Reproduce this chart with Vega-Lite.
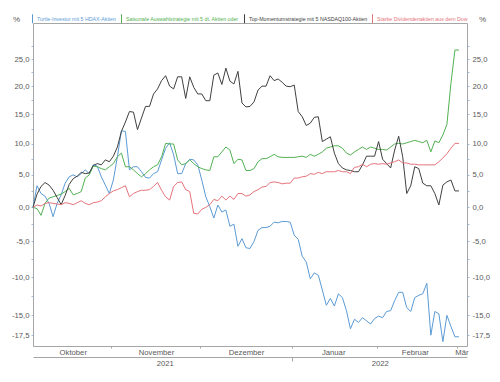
{
  "$schema": "https://vega.github.io/schema/vega-lite/v6.json",
  "width": 434,
  "height": 323,
  "autosize": {"type": "none"},
  "padding": {"left": 33, "top": 23, "right": 33, "bottom": 36},
  "background": "white",
  "config": {
    "view": {"stroke": null},
    "axis": {"labelFont": "Liberation Sans", "labelFontSize": 7.7, "labelColor": "#595959", "domainColor": "#a6a6a6", "tickColor": "#a6a6a6", "grid": false, "titleFont": "Liberation Sans", "titleColor": "#595959", "titleFontWeight": "normal", "titleFontSize": 8}
  },
  "data": {"values": [
    {"t":0,"a":100.0,"b":100.0,"c":100.0,"d":100.0},
    {"t":1,"a":103.3,"b":99.8,"c":102.0,"d":100.35},
    {"t":2,"a":102.1,"b":98.8,"c":103.2,"d":100.2},
    {"t":3,"a":101.7,"b":100.6,"c":103.8,"d":100.6},
    {"t":4,"a":100.6,"b":101.4,"c":103.4,"d":100.7},
    {"t":5,"a":98.6,"b":101.6,"c":102.6,"d":100.6},
    {"t":6,"a":100.6,"b":101.8,"c":101.5,"d":100.5},
    {"t":7,"a":101.9,"b":102.0,"c":100.4,"d":100.4},
    {"t":8,"a":103.7,"b":102.4,"c":101.8,"d":100.7},
    {"t":9,"a":104.7,"b":102.9,"c":103.5,"d":100.6},
    {"t":10,"a":105.0,"b":101.9,"c":104.4,"d":100.4},
    {"t":11,"a":104.7,"b":102.1,"c":104.8,"d":100.7},
    {"t":12,"a":105.2,"b":102.4,"c":105.4,"d":101.0},
    {"t":13,"a":105.8,"b":104.5,"c":105.2,"d":100.6},
    {"t":14,"a":105.2,"b":105.0,"c":105.3,"d":100.4},
    {"t":15,"a":106.6,"b":106.4,"c":106.5,"d":100.7},
    {"t":16,"a":106.4,"b":106.3,"c":106.8,"d":100.8},
    {"t":17,"a":104.7,"b":106.0,"c":106.6,"d":101.0},
    {"t":18,"a":103.4,"b":105.8,"c":107.4,"d":101.6},
    {"t":19,"a":102.1,"b":106.3,"c":107.1,"d":102.1},
    {"t":20,"a":104.2,"b":106.8,"c":108.0,"d":102.5},
    {"t":21,"a":107.9,"b":107.9,"c":109.5,"d":102.7},
    {"t":22,"a":112.2,"b":108.5,"c":112.1,"d":103.0},
    {"t":23,"a":112.1,"b":106.3,"c":113.7,"d":103.3},
    {"t":24,"a":105.8,"b":106.3,"c":115.5,"d":101.6},
    {"t":25,"a":106.3,"b":105.8,"c":115.4,"d":102.1},
    {"t":26,"a":106.3,"b":105.2,"c":112.4,"d":102.4},
    {"t":27,"a":105.5,"b":104.7,"c":114.4,"d":102.6},
    {"t":28,"a":104.6,"b":105.2,"c":116.4,"d":102.6},
    {"t":29,"a":104.5,"b":105.8,"c":116.4,"d":102.7},
    {"t":30,"a":105.2,"b":106.3,"c":118.6,"d":103.2},
    {"t":31,"a":105.5,"b":106.6,"c":119.5,"d":103.8},
    {"t":32,"a":107.4,"b":107.9,"c":121.0,"d":102.6},
    {"t":33,"a":109.3,"b":110.1,"c":121.9,"d":101.6},
    {"t":34,"a":110.2,"b":110.0,"c":120.0,"d":101.1},
    {"t":35,"a":108.2,"b":110.0,"c":119.5,"d":103.2},
    {"t":36,"a":105.2,"b":107.4,"c":121.7,"d":103.8},
    {"t":37,"a":105.2,"b":106.6,"c":121.7,"d":103.9},
    {"t":38,"a":106.8,"b":106.8,"c":117.8,"d":102.7},
    {"t":39,"a":107.5,"b":107.4,"c":121.7,"d":102.4},
    {"t":40,"a":107.4,"b":106.8,"c":119.8,"d":99.1},
    {"t":41,"a":106.6,"b":106.3,"c":118.6,"d":99.0},
    {"t":42,"a":104.2,"b":106.0,"c":118.6,"d":99.7},
    {"t":43,"a":101.6,"b":105.8,"c":117.4,"d":100.0},
    {"t":44,"a":100.1,"b":105.7,"c":117.4,"d":100.4},
    {"t":45,"a":98.4,"b":107.9,"c":122.0,"d":101.2},
    {"t":46,"a":100.35,"b":107.9,"c":122.4,"d":101.0},
    {"t":47,"a":99.3,"b":108.7,"c":120.3,"d":101.7},
    {"t":48,"a":99.6,"b":109.5,"c":123.3,"d":101.1},
    {"t":49,"a":97.2,"b":109.0,"c":120.9,"d":101.7},
    {"t":50,"a":97.5,"b":106.8,"c":120.4,"d":101.2},
    {"t":51,"a":94.3,"b":107.5,"c":122.7,"d":102.1},
    {"t":52,"a":95.4,"b":107.4,"c":117.0,"d":102.1},
    {"t":53,"a":94.1,"b":105.7,"c":116.3,"d":101.7},
    {"t":54,"a":94.0,"b":105.7,"c":116.4,"d":101.9},
    {"t":55,"a":95.0,"b":106.0,"c":117.2,"d":102.4},
    {"t":56,"a":96.6,"b":107.1,"c":119.3,"d":102.7},
    {"t":57,"a":97.0,"b":107.6,"c":120.0,"d":103.1},
    {"t":58,"a":97.0,"b":107.6,"c":120.0,"d":103.2},
    {"t":59,"a":97.2,"b":107.9,"c":121.9,"d":103.8},
    {"t":60,"a":97.8,"b":108.3,"c":121.0,"d":103.9},
    {"t":61,"a":97.7,"b":107.9,"c":121.3,"d":103.8},
    {"t":62,"a":97.9,"b":107.8,"c":120.7,"d":103.6},
    {"t":63,"a":97.9,"b":107.8,"c":120.0,"d":103.7},
    {"t":64,"a":97.8,"b":107.8,"c":119.9,"d":103.7},
    {"t":65,"a":95.9,"b":107.8,"c":120.2,"d":104.5},
    {"t":66,"a":95.3,"b":107.9,"c":115.5,"d":104.5},
    {"t":67,"a":92.9,"b":108.0,"c":114.6,"d":104.7},
    {"t":68,"a":92.1,"b":107.8,"c":113.1,"d":104.8},
    {"t":69,"a":89.8,"b":108.3,"c":113.5,"d":105.2},
    {"t":70,"a":90.6,"b":108.0,"c":114.5,"d":105.1},
    {"t":71,"a":90.3,"b":108.3,"c":114.6,"d":105.4},
    {"t":72,"a":88.3,"b":108.7,"c":110.4,"d":105.2},
    {"t":73,"a":86.3,"b":109.3,"c":110.8,"d":105.5},
    {"t":74,"a":87.2,"b":109.5,"c":111.2,"d":105.5},
    {"t":75,"a":86.2,"b":109.7,"c":108.5,"d":105.5},
    {"t":76,"a":87.8,"b":109.7,"c":106.8,"d":105.7},
    {"t":77,"a":87.3,"b":109.3,"c":106.1,"d":105.5},
    {"t":78,"a":85.6,"b":108.5,"c":105.8,"d":105.5},
    {"t":79,"a":83.3,"b":108.2,"c":105.7,"d":105.2},
    {"t":80,"a":84.5,"b":108.7,"c":105.5,"d":106.2},
    {"t":81,"a":84.1,"b":109.1,"c":105.5,"d":106.3},
    {"t":82,"a":84.7,"b":109.5,"c":106.6,"d":106.7},
    {"t":83,"a":84.3,"b":109.1,"c":108.0,"d":106.3},
    {"t":84,"a":83.9,"b":109.5,"c":108.0,"d":106.7},
    {"t":85,"a":84.6,"b":109.3,"c":108.0,"d":106.8},
    {"t":86,"a":84.9,"b":109.1,"c":110.4,"d":106.7},
    {"t":87,"a":84.7,"b":109.1,"c":107.5,"d":106.8},
    {"t":88,"a":85.5,"b":109.0,"c":106.8,"d":106.7},
    {"t":89,"a":85.6,"b":109.5,"c":106.1,"d":106.9},
    {"t":90,"a":86.9,"b":110.0,"c":109.0,"d":107.1},
    {"t":91,"a":88.0,"b":110.1,"c":111.3,"d":107.4},
    {"t":92,"a":88.0,"b":110.0,"c":107.9,"d":106.9},
    {"t":93,"a":86.0,"b":110.2,"c":102.1,"d":106.9},
    {"t":94,"a":85.5,"b":110.4,"c":103.3,"d":106.7},
    {"t":95,"a":87.3,"b":110.6,"c":106.3,"d":106.7},
    {"t":96,"a":87.6,"b":110.4,"c":106.0,"d":106.6},
    {"t":97,"a":87.8,"b":110.2,"c":103.7,"d":106.6},
    {"t":98,"a":89.2,"b":110.6,"c":103.3,"d":106.6},
    {"t":99,"a":82.5,"b":108.7,"c":103.3,"d":106.6},
    {"t":100,"a":85.5,"b":110.5,"c":102.1,"d":106.6},
    {"t":101,"a":85.2,"b":110.2,"c":100.35,"d":107.1},
    {"t":102,"a":81.7,"b":111.5,"c":103.4,"d":107.7},
    {"t":103,"a":85.0,"b":113.3,"c":103.9,"d":108.4},
    {"t":104,"a":83.6,"b":120.5,"c":104.2,"d":109.3},
    {"t":105,"a":82.3,"b":126.7,"c":102.5,"d":110.1},
    {"t":106,"a":82.3,"b":126.7,"c":102.5,"d":110.1}
  ]},
  "resolve": {"axis": {"x": "independent", "y": "independent"}},
  "layer": [
    {
      "transform": [{"fold": ["a", "b", "c", "d"], "as": ["serie", "index"]}],
      "mark": {"type": "line", "strokeWidth": 1, "clip": false},
      "encoding": {
        "x": {"field": "t", "type": "quantitative",
          "scale": {"domain": [0, 108], "nice": false, "zero": false},
          "axis": {"orient": "bottom", "title": null, "values": [9.9, 19.5, 30.6, 41.5, 53, 64.5, 74.7, 85.5, 95, 105.5, 106.6],
            "labelExpr": "datum.value == 9.9 ? 'Oktober' : datum.value == 30.6 ? 'November' : datum.value == 53 ? 'Dezember' : datum.value == 74.7 ? 'Januar' : datum.value == 95 ? 'Februar' : datum.value == 106.6 ? 'Mär' : ''",
            "tickSize": 2, "tickOpacity": {"condition": {"test": "datum.value % 1 == 0.5", "value": 1}, "value": 0},
            "labelPadding": 0, "labelOverlap": false, "labelFlush": false, "labelBound": false}},
        "y": {"field": "index", "type": "quantitative",
          "scale": {"type": "log", "domain": [81.17, 131.96], "nice": false, "zero": false},
          "axis": {"orient": "left", "values": [82.5, 85, 87.5, 90, 92.5, 95, 97.5, 100, 102.5, 105, 107.5, 110, 112.5, 115, 117.5, 120, 122.5, 125, 127.5],
            "labelExpr": "(datum.value - 100) % 5 == 0 || datum.value == 82.5 ? replace(replace(format(datum.value - 100, '.1f'), '.', ','), '−', '-') : ''",
            "tickSize": 2, "tickColor": "#9dbbe0", "labelPadding": 2, "labelOverlap": false,
            "title": "%", "titleAngle": 0, "titleX": -17, "titleY": -4, "titleBaseline": "middle", "titleAlign": "center"}},
        "color": {"field": "serie", "type": "nominal",
          "scale": {"domain": ["a", "b", "c", "d"], "range": ["#5b9bd5", "#52b152", "#404040", "#e5737b"]},
          "legend": {"orient": "none", "legendX": -5.5, "legendY": -9.5, "direction": "horizontal", "columns": 4, "title": null,
            "symbolType": "M0,-1L0,1", "symbolSize": 81, "symbolStrokeWidth": 1, "padding": 0,
            "labelFont": "Liberation Sans", "labelFontSize": 5.25, "labelOffset": -0.5, "columnPadding": 0, "labelLimit": 400,
            "labelExpr": "datum.value == 'a' ? 'Turtle-Investor mit 5 HDAX-Aktien' : datum.value == 'b' ? 'Saisonale Auswahlstrategie mit 5 dt. Aktien oder' : datum.value == 'c' ? 'Top-Momentumstrategie mit 5 NASDAQ100-Aktien' : 'Starke Dividendenaktien aus dem Dow'",
            "encode": {"symbols": {"update": {"stroke": {"value": "#a6a6a6"}, "strokeWidth": {"value": 1}, "fill": {"value": "transparent"}}},
                       "labels": {"update": {"fill": {"scale": "color", "field": "value"}}}}}}
      }
    },
    {
      "mark": {"type": "point", "opacity": 0},
      "encoding": {
        "x": {"field": "t", "type": "quantitative",
          "axis": {"orient": "bottom", "offset": 11, "title": null, "values": [32.8, 64.5, 86.3],
            "labelExpr": "datum.value == 32.8 ? '2021' : datum.value == 86.3 ? '2022' : ''",
            "tickSize": 4, "tickOpacity": {"condition": {"test": "datum.value == 64.5", "value": 1}, "value": 0},
            "labelPadding": -2, "labelOverlap": false, "labelFlush": false, "labelBound": false}},
        "y": {"field": "a", "type": "quantitative",
          "axis": {"orient": "right", "values": [82.5, 85, 87.5, 90, 92.5, 95, 97.5, 100, 102.5, 105, 107.5, 110, 112.5, 115, 117.5, 120, 122.5, 125, 127.5],
            "labelExpr": "(datum.value - 100) % 5 == 0 || datum.value == 82.5 ? replace(replace(format(datum.value - 100, '.1f'), '.', ','), '−', '-') : ''",
            "tickSize": 2, "tickColor": "#9dbbe0", "labelPadding": 3, "labelOverlap": false,
            "title": "%", "titleAngle": 0, "titleX": 15, "titleY": -4, "titleBaseline": "middle", "titleAlign": "center"}}
      }
    },
    {
      "mark": {"type": "point", "opacity": 0},
      "encoding": {
        "x": {"field": "t", "type": "quantitative",
          "axis": {"orient": "top", "title": null, "labels": false, "ticks": false, "domain": true}},
        "y": {"field": "a", "type": "quantitative", "axis": null}
      }
    }
  ]
}
